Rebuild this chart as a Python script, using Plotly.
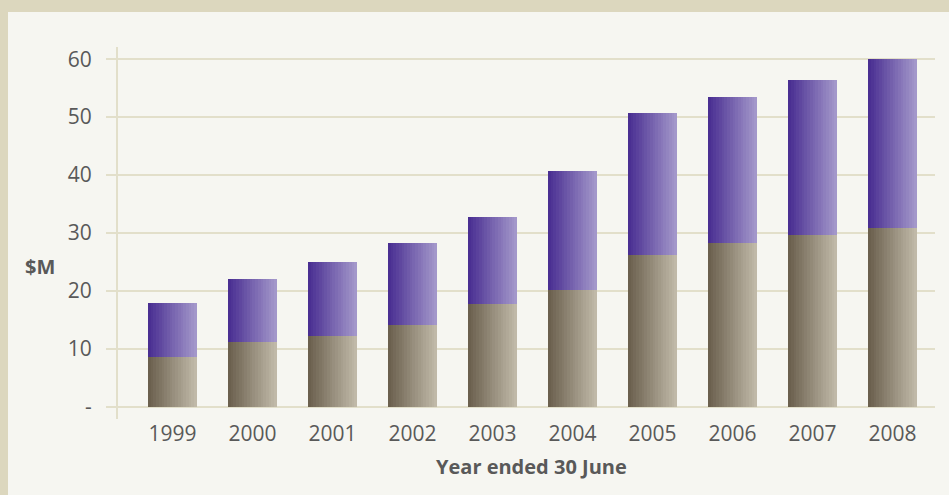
import plotly.graph_objects as go

years = ["1999", "2000", "2001", "2002", "2003", "2004", "2005", "2006", "2007", "2008"]
lower_values = [8.6, 11.2, 12.2, 14.1, 17.7, 20.2, 26.2, 28.2, 29.7, 30.9]
upper_values = [9.4, 10.8, 12.8, 14.1, 15.1, 20.5, 24.5, 25.3, 26.7, 29.1]
ytick_vals = [0, 10, 20, 30, 40, 50, 60]
ytick_text = ["-", "10", "20", "30", "40", "50", "60"]

FONT = "Open Sans"
TXT = "#595959"
GRID = "#e2dfca"

def lerp(c1, c2, t):
    a = [int(c1[i:i + 2], 16) for i in (1, 3, 5)]
    b = [int(c2[i:i + 2], 16) for i in (1, 3, 5)]
    return "rgb(%d,%d,%d)" % tuple(round(a[k] + (b[k] - a[k]) * t) for k in range(3))

fig = go.Figure()
BW = 0.6125
N = 18
sw = BW / N
brown = ("#6b604e", "#c0b9a8")
purple = ("#4a2f92", "#a397ca")
for i in range(N):
    t = i / (N - 1)
    off = -BW / 2 + i * sw
    fig.add_trace(go.Bar(x=years, y=lower_values, offset=off, width=sw * 1.05,
                         marker=dict(color=lerp(brown[0], brown[1], t), line_width=0),
                         showlegend=False, hoverinfo="skip"))
    fig.add_trace(go.Bar(x=years, y=upper_values, base=lower_values, offset=off, width=sw * 1.05,
                         marker=dict(color=lerp(purple[0], purple[1], t), line_width=0),
                         showlegend=False, hoverinfo="skip"))

W, H = 949, 495
L, R, T, B = 118, 14, 47, 76
pw = W - L - R
ph = H - T - B
fig.add_shape(type="rect", xref="paper", yref="paper",
              x0=(8 - L) / pw, x1=(W - L + 10) / pw,
              y0=-(B + 10) / ph, y1=(H - 12 - B) / ph,
              fillcolor="#f6f6f1", line_width=0, layer="below")

fig.update_layout(
    width=W, height=H, margin=dict(l=L, r=R, t=T, b=B, autoexpand=False),
    paper_bgcolor="#dcd7be", plot_bgcolor="rgba(0,0,0,0)",
    barmode="overlay", bargap=0,
    font=dict(family=FONT, color=TXT, size=18),
    xaxis=dict(type="category", range=[-0.68, 9.53], showgrid=False, zeroline=False,
               showline=False, ticks="", automargin=False,
               tickfont=dict(size=21, color=TXT), ticklabelstandoff=0),
    yaxis=dict(range=[-2.1, 62.1], tickvals=ytick_vals, ticktext=ytick_text,
               showgrid=True, gridcolor=GRID, gridwidth=2, zeroline=False,
               showline=True, linecolor=GRID, linewidth=2, automargin=False,
               ticks="outside", ticklen=10, tickcolor=GRID, tickwidth=2,
               tickfont=dict(size=21, color=TXT), ticklabelstandoff=10),
    annotations=[
        dict(text="<b>$M</b>", xref="paper", yref="paper", x=(40 - L) / pw, y=(H - 266 - B) / ph,
             showarrow=False, font=dict(size=20, color=TXT), xanchor="center", yanchor="middle"),
        dict(text="<b>Year ended 30 June</b>", xref="paper", yref="paper",
             x=(531 - L) / pw, y=(H - 467 - B) / ph,
             showarrow=False, font=dict(size=20, color=TXT), xanchor="center", yanchor="middle"),
    ],
)

fig.write_html("out.html", config={"displayModeBar": False},
               post_script="document.body.style.margin='0';document.body.style.overflow='hidden';")
